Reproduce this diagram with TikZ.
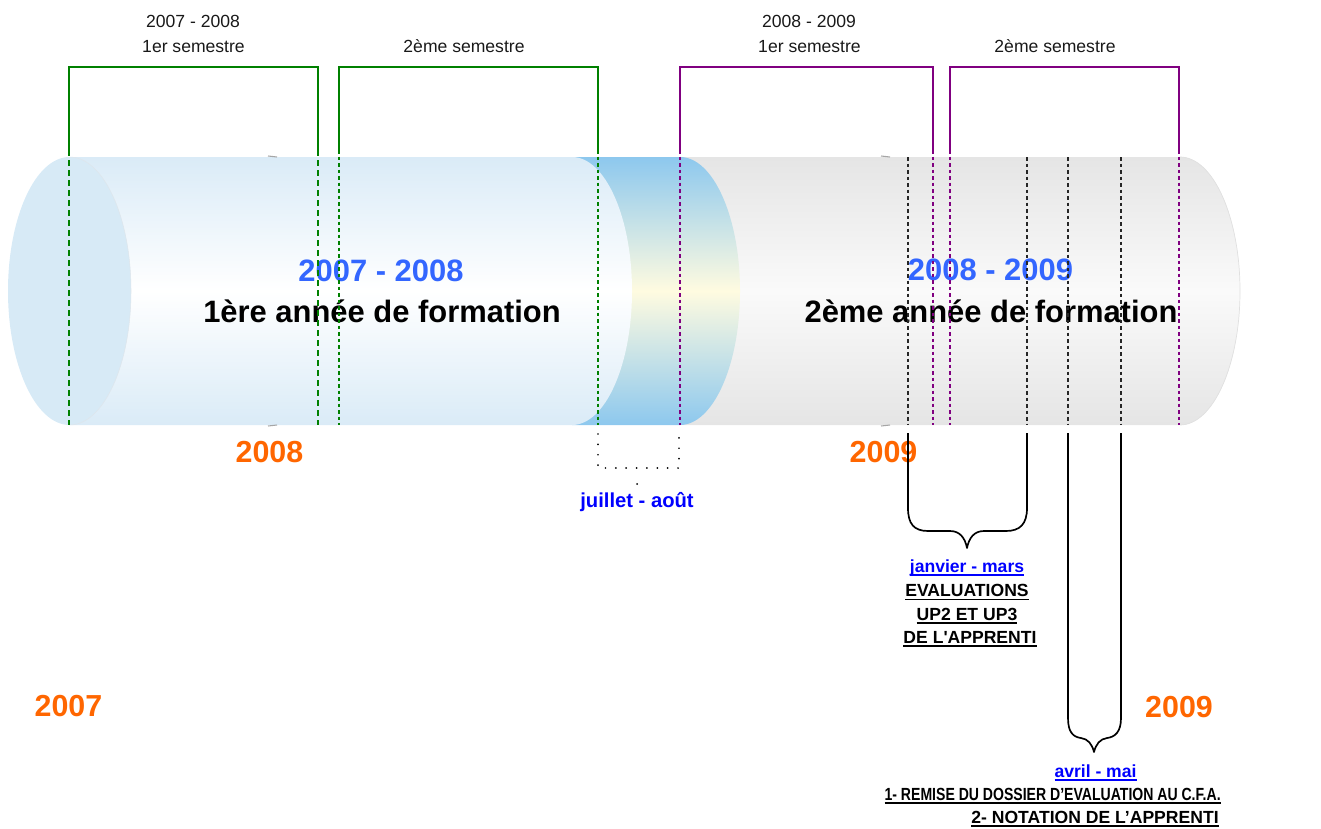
\documentclass[tikz,border=0pt]{standalone}
\usepackage{fontspec}
\usepackage{graphicx}
\setmainfont{Liberation Sans}
\newfontfamily\straightsans[Ligatures=TeXOff]{Liberation Sans}

\definecolor{capblue}{HTML}{D7EAF6}
\definecolor{paleblue}{HTML}{DAEBF7}
\definecolor{bandblue}{HTML}{8DC8EE}
\definecolor{bandyellow}{HTML}{FFFBE0}
\definecolor{tubegray}{HTML}{E5E5E5}
\definecolor{tubelight}{HTML}{FAFAFA}
\definecolor{yearblue}{HTML}{3366FF}
\definecolor{yearorange}{HTML}{FF6600}
\definecolor{pureblue}{HTML}{0000FF}
\definecolor{semgreen}{HTML}{008000}
\definecolor{sempurple}{HTML}{800080}

% underlined box, thicker rule than \underline
\newcommand\ulbox[1]{\setbox0\hbox{#1}\leavevmode\rlap{\rule[-2.1pt]{\wd0}{0.85pt}}\box0}

\tikzset{
  semtxt/.style={font=\fontsize{10}{12}\selectfont, text=black!90, anchor=base, inner sep=0pt},
  yeartxt/.style={font=\fontsize{17.6}{20}\selectfont\bfseries, text=yearblue, anchor=base, inner sep=0pt},
  titletxt/.style={font=\fontsize{17.6}{20}\selectfont\bfseries, anchor=base, inner sep=0pt},
  datetxt/.style={font=\fontsize{17.3}{20}\selectfont\bfseries, text=yearorange, anchor=base, inner sep=0pt},
  periodtxt/.style={font=\fontsize{10}{13}\selectfont\bfseries, anchor=base, inner sep=0pt},
  bracketline/.style={line width=1.1pt},
  thickdash/.style={line width=1.1pt, dash pattern=on 3.4pt off 2.3pt},
  thindash/.style={line width=0.65pt, dash pattern=on 2pt off 1.7pt},
  braceline/.style={line width=0.95pt, line join=round},
  dotline/.style={line width=1.1pt, line cap=round, dash pattern=on 0pt off 5.9pt}
}

\begin{document}
\begin{tikzpicture}[x=0.02cm, y=-0.02cm]
\useasboundingbox (0,0) rectangle (1321,828);

% second year tube
\shade[top color=tubegray, bottom color=tubegray, middle color=tubelight]
	(680,157) -- (1180,157) .. controls (1213.1,157) and (1240,217) ..
	(1240,291) .. controls (1240,365) and (1213.1,425) ..
	(1180,425) -- (680,425) -- cycle;
\draw[black!12, line width=0.4pt] (1180,157) .. controls (1213.1,157) and (1240,217) ..
	(1240,291) .. controls (1240,365) and (1213.1,425) .. (1180,425);

% summer band
\shade[top color=bandblue, bottom color=bandblue, middle color=bandyellow]
	(572,157) -- (680,157) .. controls (713.1,157) and (740,217) ..
	(740,291) .. controls (740,365) and (713.1,425) ..
	(680,425) -- (572,425) -- cycle;

% first year tube
\shade[top color=paleblue, bottom color=paleblue, middle color=white]
	(69,157) -- (572,157) .. controls (605.1,157) and (632,217) ..
	(632,291) .. controls (632,365) and (605.1,425) ..
	(572,425) -- (69,425) -- cycle;
\fill[capblue] (69.5,291) ellipse (61.5 and 134);
\draw[paleblue!80!gray!60, line width=0.3pt] (69.5,157) .. controls (103.5,157) and (131,217) ..
	(131,291) .. controls (131,365) and (103.5,425) .. (69.5,425);

% small marks on the tube edges
\foreach \mx in {273,886}{
  \draw[gray!70, line width=0.6pt] (\mx-5,156) -- (\mx+4,157);
  \draw[gray!70, line width=0.6pt] (\mx-5,426) -- (\mx+4,425);
}

% titles in the tubes
\node[yeartxt] (an1) at (381,281) {2007 - 2008};
\node[titletxt] (form1) at (382,322) {1ère année de formation};
\node[yeartxt] (an2) at (990.5,280) {2008 - 2009};
\node[titletxt] (form2) at (991,322) {2ème année de formation};

% semester brackets
\draw[bracketline, semgreen] (69,150) -- (69,67) -- (318,67) -- (318,150);
\draw[bracketline, semgreen] (339,150) -- (339,67) -- (598,67) -- (598,150);
\draw[bracketline, sempurple] (680,150) -- (680,67) -- (933,67) -- (933,150);
\draw[bracketline, sempurple] (950,150) -- (950,67) -- (1179,67) -- (1179,150);

\foreach \gx in {69,318}
  \draw[thickdash, semgreen] (\gx,150) -- (\gx,425);
\foreach \gx in {339,598}
  \draw[thindash, semgreen] (\gx,150) -- (\gx,425);
\foreach \px in {680,933,950,1179}
  \draw[thindash, sempurple] (\px,150) -- (\px,425);
\foreach \kx in {908,1027,1068,1121}
  \draw[thindash, black!85] (\kx,157) -- (\kx,425);

\node[semtxt] (yr1) at (193,28) {2007 - 2008};
\node[semtxt] (sem1) at (193.5,53) {1er semestre};
\node[semtxt] (sem2) at (464,53) {2ème semestre};
\node[semtxt] (yr2) at (809,28) {2008 - 2009};
\node[semtxt] (sem3) at (809.5,53) {1er semestre};
\node[semtxt] (sem4) at (1055,53) {2ème semestre};

% years
\node[datetxt] (d2008) at (269.5,462) {2008};
\node[datetxt] (d2009a) at (883.5,462) {2009};
\node[datetxt] (d2007) at (68.5,716) {2007};
\node[datetxt] (d2009b) at (1179,717) {2009};

% summer holidays
\draw[dotline] (598,434) -- (598,468) -- (679,468) -- (679,434);
\fill (637,484) circle (1);
\node[font=\fontsize{11.5}{13}\selectfont\bfseries, text=pureblue, anchor=base, inner sep=0pt]
	(ete) at (637,507) {juillet - août};

% braces
\draw[braceline] (908,433) -- (908,508) .. controls (908,524) and (914,531) ..
	(928,531) -- (950,531) .. controls (960,531) and (965,538) ..
	(967,548) .. controls (969,538) and (974,531) ..
	(984,531) -- (1006,531) .. controls (1020,531) and (1027,524) ..
	(1027,508) -- (1027,433);
\draw[braceline] (1068,433) -- (1068,718) .. controls (1068,732) and (1073,737) ..
	(1081,738) .. controls (1088,739) and (1092,744) ..
	(1094,752) .. controls (1096,744) and (1100,739) ..
	(1107,738) .. controls (1115,737) and (1121,732) ..
	(1121,718) -- (1121,433);

\node[periodtxt, text=pureblue] (jm) at (967,572) {\ulbox{janvier - mars}};
\node[periodtxt] (ev1) at (967,596.5) {\ulbox{EVALUATIONS}};
\node[periodtxt] (ev2) at (967,620) {\ulbox{UP2 ET UP3}};
\node[periodtxt] (ev3) at (970,643) {\ulbox{\straightsans DE L'APPRENTI}};

\node[periodtxt, text=pureblue] (am) at (1095.5,777) {\ulbox{avril - mai}};
\node[periodtxt, anchor=base east] (rem1) at (1221,800)
	{\ulbox{\scalebox{0.8}[1]{1- REMISE DU DOSSIER D’EVALUATION AU C.F.A.}}};
\node[periodtxt] (rem2) at (1095,823) {\ulbox{2- NOTATION DE L’APPRENTI}};
\end{tikzpicture}
\end{document}
